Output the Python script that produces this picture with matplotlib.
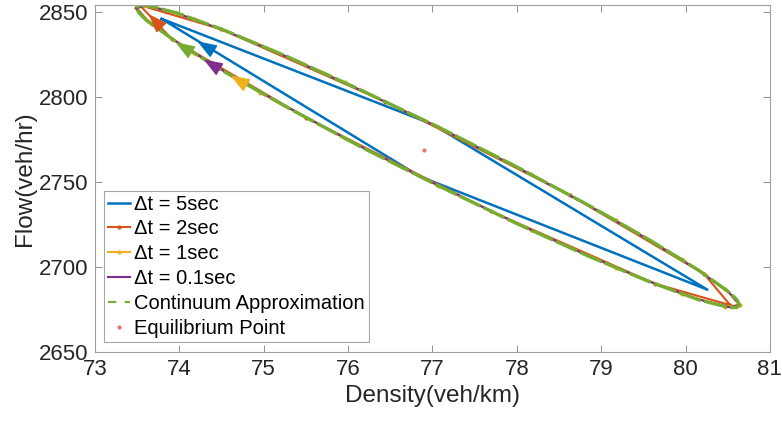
import numpy as np
import matplotlib
matplotlib.use("Agg")
import matplotlib.pyplot as plt
from matplotlib.lines import Line2D

plt.rcParams['font.family'] = ['Liberation Sans', 'DejaVu Sans']

# continuum approximation (closed loop, clockwise)
cont_density = [73.49, 73.52, 73.61, 73.97, 74.54, 75.28, 76.14, 77.07, 77.99, 78.85,
                79.59, 80.16, 80.52, 80.61, 80.64, 80.61, 80.52, 80.16, 79.59, 78.85,
                77.99, 77.07, 76.14, 75.28, 74.54, 73.97, 73.61, 73.52, 73.49]
cont_flow = [2852.4, 2853.9, 2853.9, 2849.4, 2839.1, 2823.7, 2804.3, 2782.3, 2759.1, 2736.3,
             2715.4, 2697.9, 2685.0, 2680.6, 2677.6, 2676.1, 2676.1, 2680.6, 2690.9, 2706.3,
             2725.7, 2747.7, 2770.9, 2793.8, 2814.6, 2832.1, 2845.0, 2849.4, 2852.4]

# dt = 5 sec
dt5_density = [73.79, 77.00, 80.26, 76.85, 73.79]
dt5_flow = [2845.9, 2783.9, 2686.6, 2753.2, 2845.9]

# dt = 2 sec
dt2_density = [73.53, 74.49, 76.44, 78.63, 80.22, 80.53, 79.64, 77.69, 75.50, 73.91, 73.53]
dt2_flow = [2854.0, 2839.9, 2797.2, 2742.2, 2695.9, 2677.5, 2690.1, 2732.8, 2787.8, 2834.1, 2854.0]

# dt = 1 sec
dt1_density = [73.49, 73.67, 74.17, 74.96, 75.96, 77.07, 78.17, 79.17, 79.96, 80.47, 80.64,
               80.47, 79.96, 79.17, 78.17, 77.07, 75.96, 74.96, 74.17, 73.67, 73.49]
dt1_flow = [2852.4, 2853.5, 2845.9, 2830.4, 2808.5, 2782.3, 2754.4, 2727.6, 2704.4, 2687.2, 2677.6,
            2676.5, 2684.1, 2699.6, 2721.5, 2747.7, 2775.6, 2802.4, 2825.6, 2842.8, 2852.4]

# dt = 0.1 sec
dt01_density = [73.49, 73.61, 73.97, 74.54, 75.28, 76.14, 77.07, 77.99, 78.85, 79.59, 80.16,
                80.52, 80.64, 80.52, 80.16, 79.59, 78.85, 77.99, 77.07, 76.14, 75.28, 74.54,
                73.97, 73.61, 73.49]
dt01_flow = [2852.3, 2853.7, 2849.2, 2838.9, 2823.5, 2804.1, 2782.1, 2758.9, 2736.1, 2715.2, 2697.7,
             2684.8, 2677.6, 2676.3, 2680.8, 2691.1, 2706.5, 2725.9, 2747.9, 2771.1, 2794.0, 2814.8,
             2832.3, 2845.2, 2852.3]

eq_density = [76.9]
eq_flow = [2769]

# arrow positions on each loop
arrow_pos = {
    'dt5': (74.33, 2829.5),
    'dt2': (73.72, 2844.2),
    'dt1': (74.72, 2809.3),
    'dt01': (74.40, 2818.9),
    'cont': (74.07, 2829.0),
}

xticks = [73, 74, 75, 76, 77, 78, 79, 80, 81]
yticks = [2650, 2700, 2750, 2800, 2850]

c_blue = '#0072BD'
c_red = '#D95319'
c_yel = '#EDB120'
c_pur = '#7E2F8E'
c_grn = '#77AC30'

fig = plt.figure(figsize=(7.82, 4.25), dpi=100)
ax = fig.add_axes([0.1215, 0.172, 0.863, 0.816])
ax.set_xlim(73, 81)
ax.set_ylim(2650, 2854)

h5, = ax.plot(dt5_density, dt5_flow, color=c_blue, lw=1.8)
h2, = ax.plot(dt2_density, dt2_flow, color=c_red, lw=1.5, marker='.', ms=4)
h1, = ax.plot(dt1_density, dt1_flow, color=c_yel, lw=1.5, marker='.', ms=4)
h01, = ax.plot(dt01_density, dt01_flow, color=c_pur, lw=1.5)
ax.plot(cont_density, cont_flow, color=c_grn, lw=2.4, dashes=(7, 1))
heq, = ax.plot(eq_density, eq_flow, ls='none', marker='.', ms=4, color='#EF6F6F')


def arrow_angle(xs, ys, p):
    # direction (display space) of the loop segment nearest to p
    pts = ax.transData.transform(np.column_stack([xs, ys]))
    q = ax.transData.transform(p)
    best, ang = None, 0
    for i in range(len(pts) - 1):
        a, b = pts[i], pts[i + 1]
        d = b - a
        t = np.clip(np.dot(q - a, d) / np.dot(d, d), 0, 1)
        dist = np.linalg.norm(a + t * d - q)
        if best is None or dist < best:
            best = dist
            ang = np.arctan2(d[1], d[0])
    return ang


head = np.array([[1.0, 0.0], [-0.7, 0.62], [-0.7, -0.62], [1.0, 0.0]])

series = [('dt5', dt5_density, dt5_flow, c_blue),
          ('dt2', dt2_density, dt2_flow, c_red),
          ('dt1', dt1_density, dt1_flow, c_yel),
          ('dt01', dt01_density, dt01_flow, c_pur),
          ('cont', cont_density, cont_flow, c_grn)]
for key, xs, ys, col in series:
    p = arrow_pos[key]
    a = arrow_angle(xs, ys, p)
    rot = np.array([[np.cos(a), -np.sin(a)], [np.sin(a), np.cos(a)]])
    verts = head @ rot.T
    ax.plot([p[0]], [p[1]], ls='none', marker=verts, ms=13, color=col, zorder=5)

ax.set_xticks(xticks)
ax.set_yticks(yticks)
ax.tick_params(direction='in', length=5, width=0.6, color='#808080', labelcolor='#262626',
               labelsize=16, top=True, right=True, pad=5)
for s in ax.spines.values():
    s.set_color('#a0a0a0')
    s.set_linewidth(0.8)

ax.set_xlabel('Density(veh/km)', fontsize=17.5, color='#262626', labelpad=4)
ax.set_ylabel('Flow(veh/hr)', fontsize=17.5, color='#262626', labelpad=2)

# legend proxy for the dashed continuum line
hcont = Line2D([], [], color=c_grn, lw=1.5, dashes=(4, 4))
handles = [h5, h2, h1, h01, hcont, heq]
labels = ['Δt = 5sec', 'Δt = 2sec', 'Δt = 1sec', 'Δt = 0.1sec',
          'Continuum Approximation', 'Equilibrium Point']
leg = ax.legend(handles, labels, loc='lower left', bbox_to_anchor=(0.013, 0.029), borderaxespad=0,
                fontsize=14.5, handlelength=1.1, handletextpad=0.2, labelspacing=0.29,
                borderpad=0.2, fancybox=False, framealpha=1, edgecolor='#a6a6a6', numpoints=1)
leg.get_frame().set_linewidth(0.8)

fig.savefig('out.png', dpi=100)
